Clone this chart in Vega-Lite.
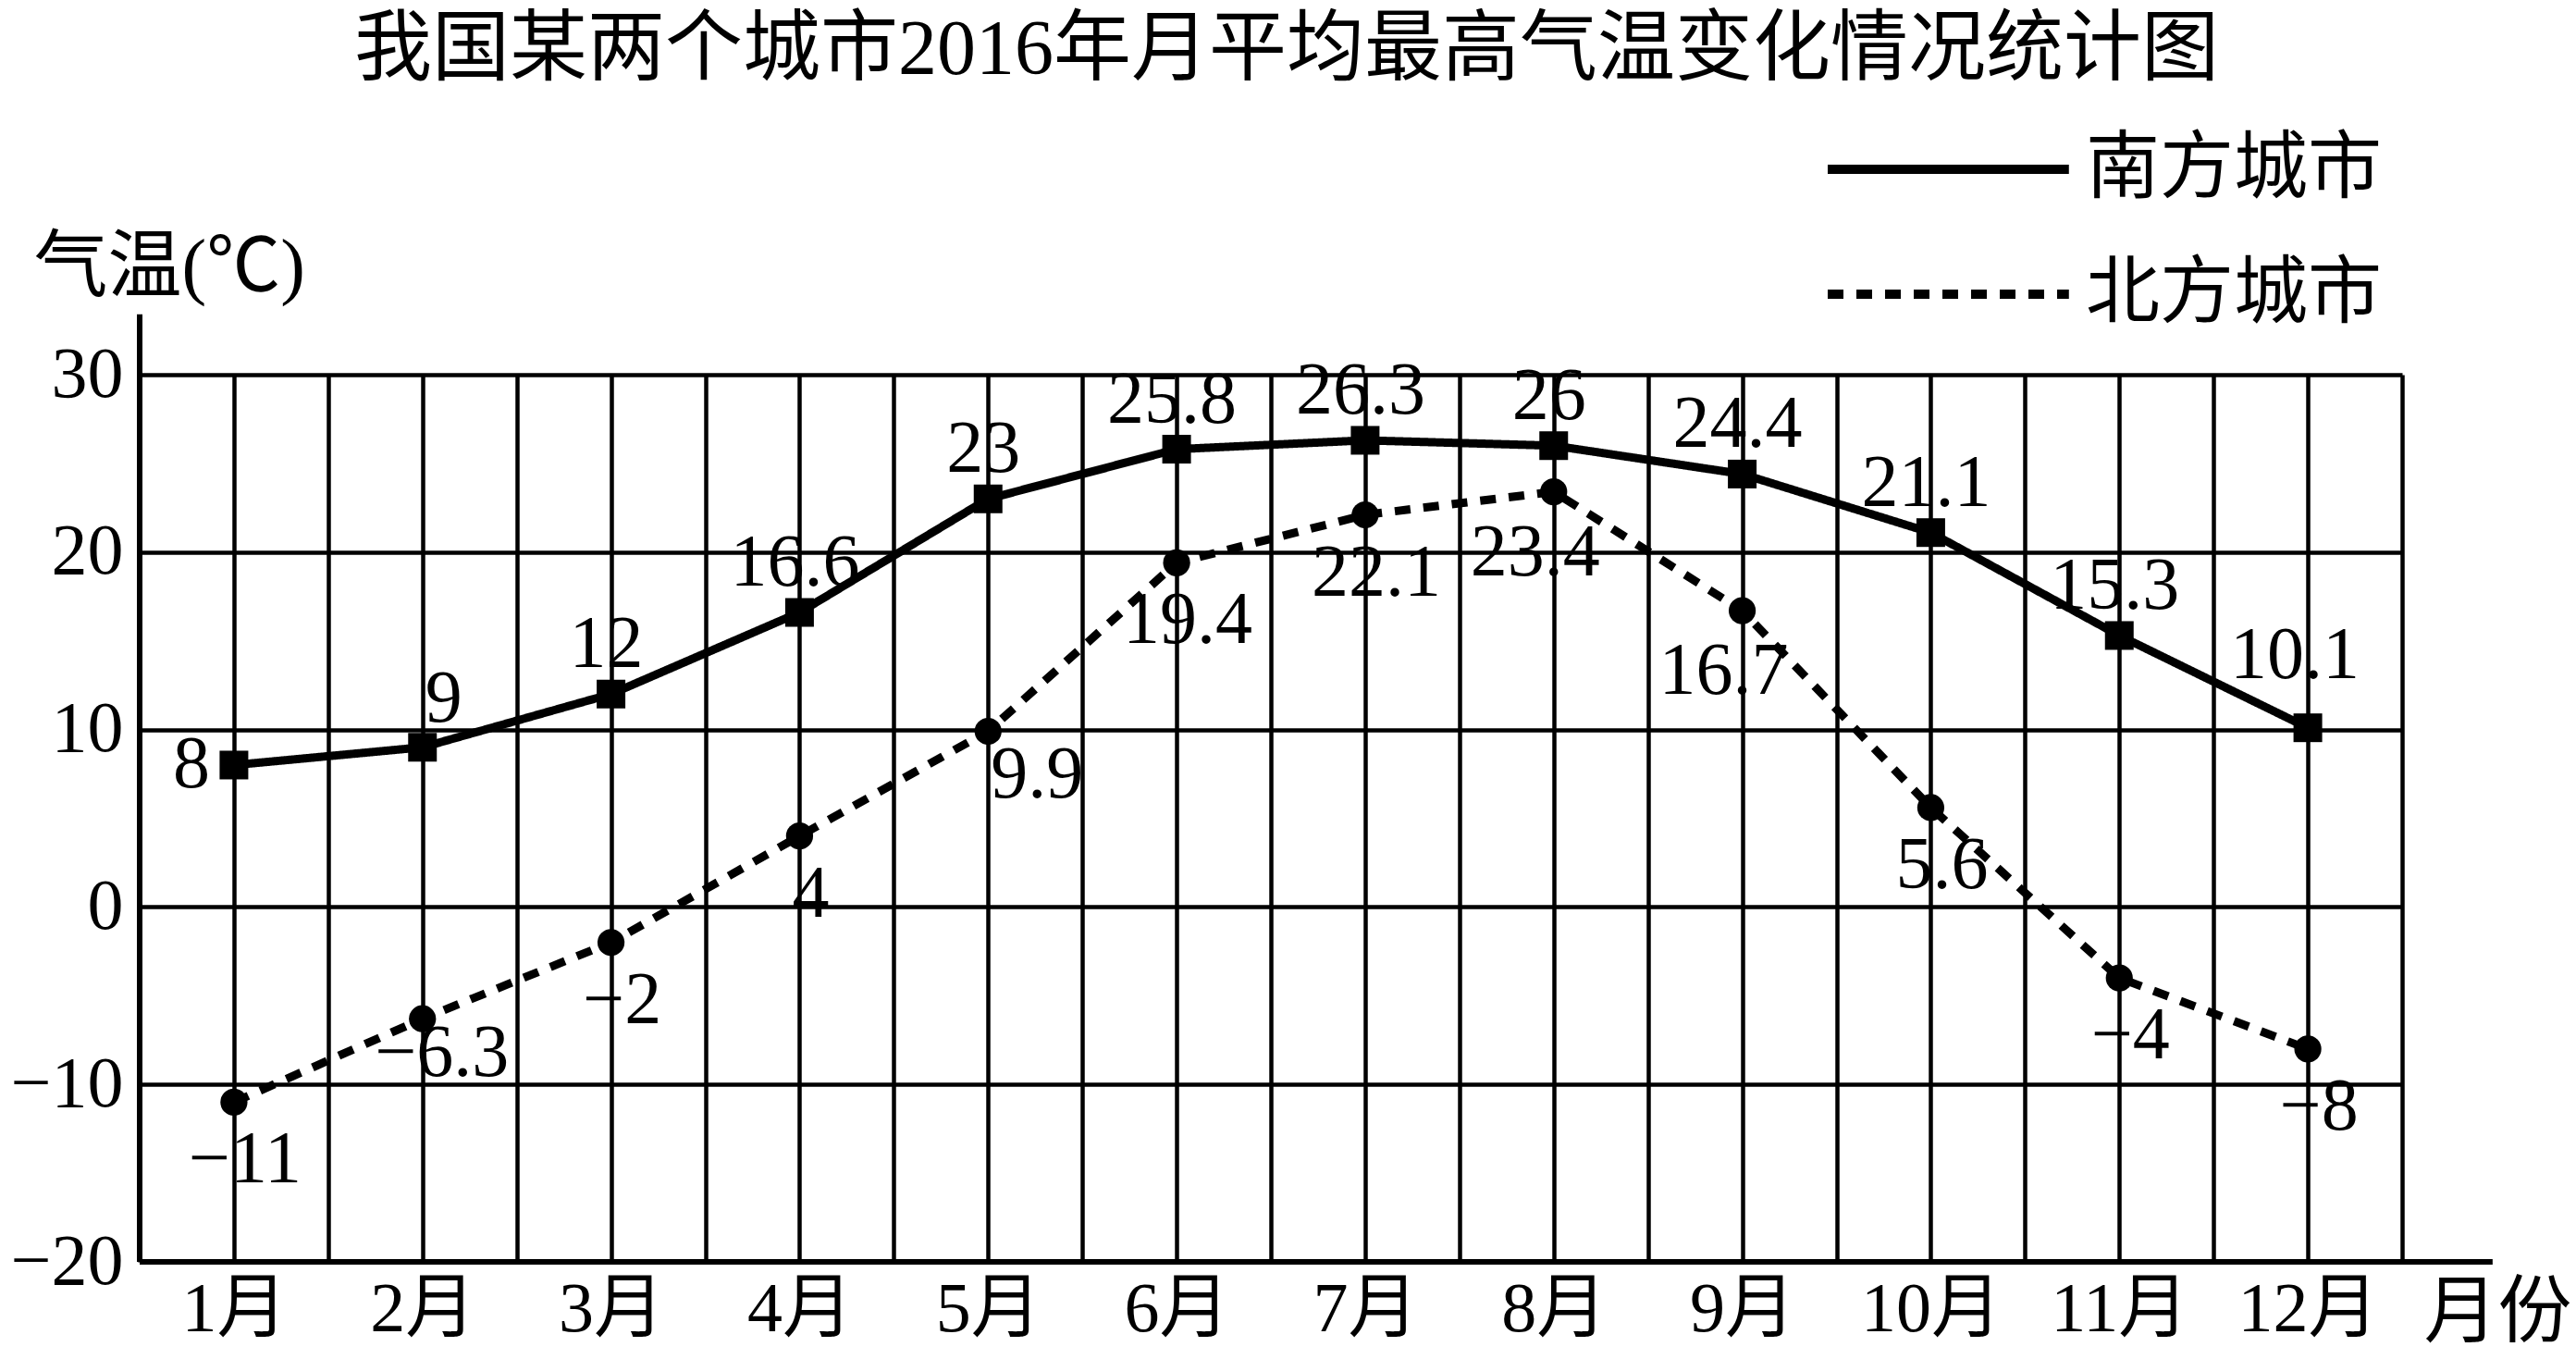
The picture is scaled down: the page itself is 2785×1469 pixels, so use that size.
{
  "$schema": "https://vega.github.io/schema/vega-lite/v6.json",
  "autosize": "none",
  "width": 2446,
  "height": 959,
  "padding": {"left": 151, "top": 405, "right": 188, "bottom": 105},
  "background": "white",
  "config": {
    "font": "Liberation Serif, Noto Sans CJK SC",
    "view": {"stroke": null}
  },
  "title": {
    "text": "我国某两个城市2016年月平均最高气温变化情况统计图",
    "fontSize": 84,
    "fontWeight": "normal",
    "font": "Liberation Serif, Noto Sans CJK SC",
    "color": "black",
    "anchor": "middle",
    "frame": "group",
    "baseline": "top",
    "dx": 17,
    "offset": 45
  },
  "data": {
    "values": [
      {"month": 1, "city": "南方城市", "temp": 8},
      {"month": 2, "city": "南方城市", "temp": 9},
      {"month": 3, "city": "南方城市", "temp": 12},
      {"month": 4, "city": "南方城市", "temp": 16.6},
      {"month": 5, "city": "南方城市", "temp": 23},
      {"month": 6, "city": "南方城市", "temp": 25.8},
      {"month": 7, "city": "南方城市", "temp": 26.3},
      {"month": 8, "city": "南方城市", "temp": 26},
      {"month": 9, "city": "南方城市", "temp": 24.4},
      {"month": 10, "city": "南方城市", "temp": 21.1},
      {"month": 11, "city": "南方城市", "temp": 15.3},
      {"month": 12, "city": "南方城市", "temp": 10.1},
      {"month": 1, "city": "北方城市", "temp": -11},
      {"month": 2, "city": "北方城市", "temp": -6.3},
      {"month": 3, "city": "北方城市", "temp": -2},
      {"month": 4, "city": "北方城市", "temp": 4},
      {"month": 5, "city": "北方城市", "temp": 9.9},
      {"month": 6, "city": "北方城市", "temp": 19.4},
      {"month": 7, "city": "北方城市", "temp": 22.1},
      {"month": 8, "city": "北方城市", "temp": 23.4},
      {"month": 9, "city": "北方城市", "temp": 16.7},
      {"month": 10, "city": "北方城市", "temp": 5.6},
      {"month": 11, "city": "北方城市", "temp": -4},
      {"month": 12, "city": "北方城市", "temp": -8}
    ]
  },
  "layer": [
    {
      "encoding": {
        "x": {
          "field": "month",
          "type": "quantitative",
          "title": "月份",
          "scale": {"domain": [0.5, 12.5], "nice": false, "zero": false},
          "axis": {
            "values": [0.5, 1, 1.5, 2, 2.5, 3, 3.5, 4, 4.5, 5, 5.5, 6, 6.5, 7, 7.5, 8, 8.5, 9, 9.5, 10, 10.5, 11, 11.5, 12, 12.5],
            "labelExpr": "datum.value % 1 === 0 ? datum.value + '月' : ''",
            "labelFontSize": 76, "labelColor": "black", "labelPadding": 14, "labelBaseline": "top",
            "labelFlush": false, "labelOverlap": false, "ticks": false, "domain": false,
            "grid": true, "gridColor": "black", "gridWidth": 4.5, "gridOpacity": 1,
            "title": "月份", "titleFontSize": 80, "titleFontWeight": "normal", "titleColor": "black",
            "titleAlign": "left", "titleBaseline": "top", "titleAnchor": "start", "titleX": 2469, "titleY": 16
          }
        },
        "y": {
          "field": "temp",
          "type": "quantitative",
          "title": "气温(℃)",
          "scale": {"domain": [-20, 30], "nice": false, "zero": false},
          "axis": {
            "values": [-20, -10, 0, 10, 20, 30],
            "labelFontSize": 78, "labelColor": "black", "labelPadding": 18,
            "ticks": false, "domain": false,
            "grid": true, "gridColor": "black", "gridWidth": 4.5, "gridOpacity": 1,
            "title": "气温(℃)", "titleFontSize": 80, "titleFontWeight": "normal", "titleColor": "black",
            "titleAngle": 0, "titleAlign": "left", "titleBaseline": "top", "titleAnchor": "start",
            "titleX": -115, "titleY": -155
          }
        }
      },
      "layer": [
        {
          "mark": {"type": "line", "color": "black", "strokeWidth": 9},
          "encoding": {
            "detail": {"field": "city"},
            "strokeDash": {
              "field": "city",
              "type": "nominal",
              "scale": {"domain": ["南方城市", "北方城市"], "range": [[1, 0], [17, 14]]},
              "legend": {
                "title": null,
                "orient": "none",
                "legendX": 1785,
                "legendY": -262,
                "direction": "vertical",
                "symbolType": "M0,0L20,0",
                "symbolSize": 680,
                "symbolStrokeWidth": 10,
                "symbolStrokeColor": "black",
                "symbolFillColor": "transparent",
                "labelFontSize": 80,
                "labelColor": "black",
                "labelFont": "Liberation Serif, Noto Sans CJK SC",
                "labelOffset": 239,
                "rowPadding": 55,
                "labelLimit": 1000
              }
            }
          }
        },
        {
          "transform": [{"filter": "datum.city === '南方城市'"}],
          "mark": {"type": "point", "shape": "square", "size": 961, "filled": true, "color": "black", "opacity": 1}
        },
        {
          "transform": [{"filter": "datum.city === '北方城市'"}],
          "mark": {"type": "point", "shape": "circle", "size": 855, "filled": true, "color": "black", "opacity": 1}
        },
        {
          "transform": [{"filter": "datum.city === '南方城市' && datum.month >= 3 && datum.month <= 11"}],
          "mark": {"type": "text", "fontSize": 80, "color": "black", "baseline": "middle", "align": "center", "dx": -5, "dy": -53},
          "encoding": {"text": {"field": "temp", "type": "quantitative", "format": "~g"}}
        },
        {
          "transform": [{"filter": "datum.city === '南方城市' && datum.month === 1"}],
          "mark": {"type": "text", "fontSize": 80, "color": "black", "baseline": "middle", "align": "center", "dx": -46, "dy": 0},
          "encoding": {"text": {"field": "temp", "type": "quantitative", "format": "~g"}}
        },
        {
          "transform": [{"filter": "datum.city === '南方城市' && datum.month === 2"}],
          "mark": {"type": "text", "fontSize": 80, "color": "black", "baseline": "middle", "align": "center", "dx": 23, "dy": -52},
          "encoding": {"text": {"field": "temp", "type": "quantitative", "format": "~g"}}
        },
        {
          "transform": [{"filter": "datum.city === '南方城市' && datum.month === 12"}],
          "mark": {"type": "text", "fontSize": 80, "color": "black", "baseline": "middle", "align": "center", "dx": -14, "dy": -78},
          "encoding": {"text": {"field": "temp", "type": "quantitative", "format": "~g"}}
        },
        {
          "transform": [{"filter": "datum.city === '北方城市' && indexof([1, 3, 4, 6, 7, 10, 11, 12], datum.month) >= 0"}],
          "mark": {"type": "text", "fontSize": 80, "color": "black", "baseline": "middle", "align": "center", "dx": 12, "dy": 63},
          "encoding": {"text": {"field": "temp", "type": "quantitative", "format": "~g"}}
        },
        {
          "transform": [{"filter": "datum.city === '北方城市' && datum.month === 2"}],
          "mark": {"type": "text", "fontSize": 80, "color": "black", "baseline": "middle", "align": "center", "dx": 21, "dy": 38},
          "encoding": {"text": {"field": "temp", "type": "quantitative", "format": "~g"}}
        },
        {
          "transform": [{"filter": "datum.city === '北方城市' && datum.month === 5"}],
          "mark": {"type": "text", "fontSize": 80, "color": "black", "baseline": "middle", "align": "center", "dx": 53, "dy": 47},
          "encoding": {"text": {"field": "temp", "type": "quantitative", "format": "~g"}}
        },
        {
          "transform": [{"filter": "datum.city === '北方城市' && (datum.month === 8 || datum.month === 9)"}],
          "mark": {"type": "text", "fontSize": 80, "color": "black", "baseline": "middle", "align": "center", "dx": -20, "dy": 66},
          "encoding": {"text": {"field": "temp", "type": "quantitative", "format": "~g"}}
        }
      ]
    },
    {
      "data": {"values": [{"a": 1}]},
      "mark": {"type": "rule", "color": "black", "strokeWidth": 6, "clip": false},
      "encoding": {
        "x": {
          "datum": 0.5,
          "type": "quantitative",
          "title": "月份",
          "axis": {
            "values": [0.5, 1, 1.5, 2, 2.5, 3, 3.5, 4, 4.5, 5, 5.5, 6, 6.5, 7, 7.5, 8, 8.5, 9, 9.5, 10, 10.5, 11, 11.5, 12, 12.5],
            "labelExpr": "datum.value % 1 === 0 ? datum.value + '月' : ''",
            "labelFontSize": 76, "labelColor": "black", "labelPadding": 14, "labelBaseline": "top",
            "labelFlush": false, "labelOverlap": false, "ticks": false, "domain": false,
            "grid": true, "gridColor": "black", "gridWidth": 4.5, "gridOpacity": 1,
            "title": "月份", "titleFontSize": 80, "titleFontWeight": "normal", "titleColor": "black",
            "titleAlign": "left", "titleBaseline": "top", "titleAnchor": "start", "titleX": 2469, "titleY": 16
          }
        },
        "y": {
          "datum": -20,
          "type": "quantitative",
          "title": "气温(℃)",
          "axis": {
            "values": [-20, -10, 0, 10, 20, 30],
            "labelFontSize": 78, "labelColor": "black", "labelPadding": 18,
            "ticks": false, "domain": false,
            "grid": true, "gridColor": "black", "gridWidth": 4.5, "gridOpacity": 1,
            "title": "气温(℃)", "titleFontSize": 80, "titleFontWeight": "normal", "titleColor": "black",
            "titleAngle": 0, "titleAlign": "left", "titleBaseline": "top", "titleAnchor": "start",
            "titleX": -115, "titleY": -155
          }
        },
        "y2": {"datum": 33.4}
      }
    },
    {
      "data": {"values": [{"a": 1}]},
      "mark": {"type": "rule", "color": "black", "strokeWidth": 6, "clip": false},
      "encoding": {
        "x": {
          "datum": 0.5,
          "type": "quantitative",
          "title": "月份",
          "axis": {
            "values": [0.5, 1, 1.5, 2, 2.5, 3, 3.5, 4, 4.5, 5, 5.5, 6, 6.5, 7, 7.5, 8, 8.5, 9, 9.5, 10, 10.5, 11, 11.5, 12, 12.5],
            "labelExpr": "datum.value % 1 === 0 ? datum.value + '月' : ''",
            "labelFontSize": 76, "labelColor": "black", "labelPadding": 14, "labelBaseline": "top",
            "labelFlush": false, "labelOverlap": false, "ticks": false, "domain": false,
            "grid": true, "gridColor": "black", "gridWidth": 4.5, "gridOpacity": 1,
            "title": "月份", "titleFontSize": 80, "titleFontWeight": "normal", "titleColor": "black",
            "titleAlign": "left", "titleBaseline": "top", "titleAnchor": "start", "titleX": 2469, "titleY": 16
          }
        },
        "x2": {"datum": 12.98},
        "y": {
          "datum": -20,
          "type": "quantitative",
          "title": "气温(℃)",
          "axis": {
            "values": [-20, -10, 0, 10, 20, 30],
            "labelFontSize": 78, "labelColor": "black", "labelPadding": 18,
            "ticks": false, "domain": false,
            "grid": true, "gridColor": "black", "gridWidth": 4.5, "gridOpacity": 1,
            "title": "气温(℃)", "titleFontSize": 80, "titleFontWeight": "normal", "titleColor": "black",
            "titleAngle": 0, "titleAlign": "left", "titleBaseline": "top", "titleAnchor": "start",
            "titleX": -115, "titleY": -155
          }
        }
      }
    }
  ]
}
